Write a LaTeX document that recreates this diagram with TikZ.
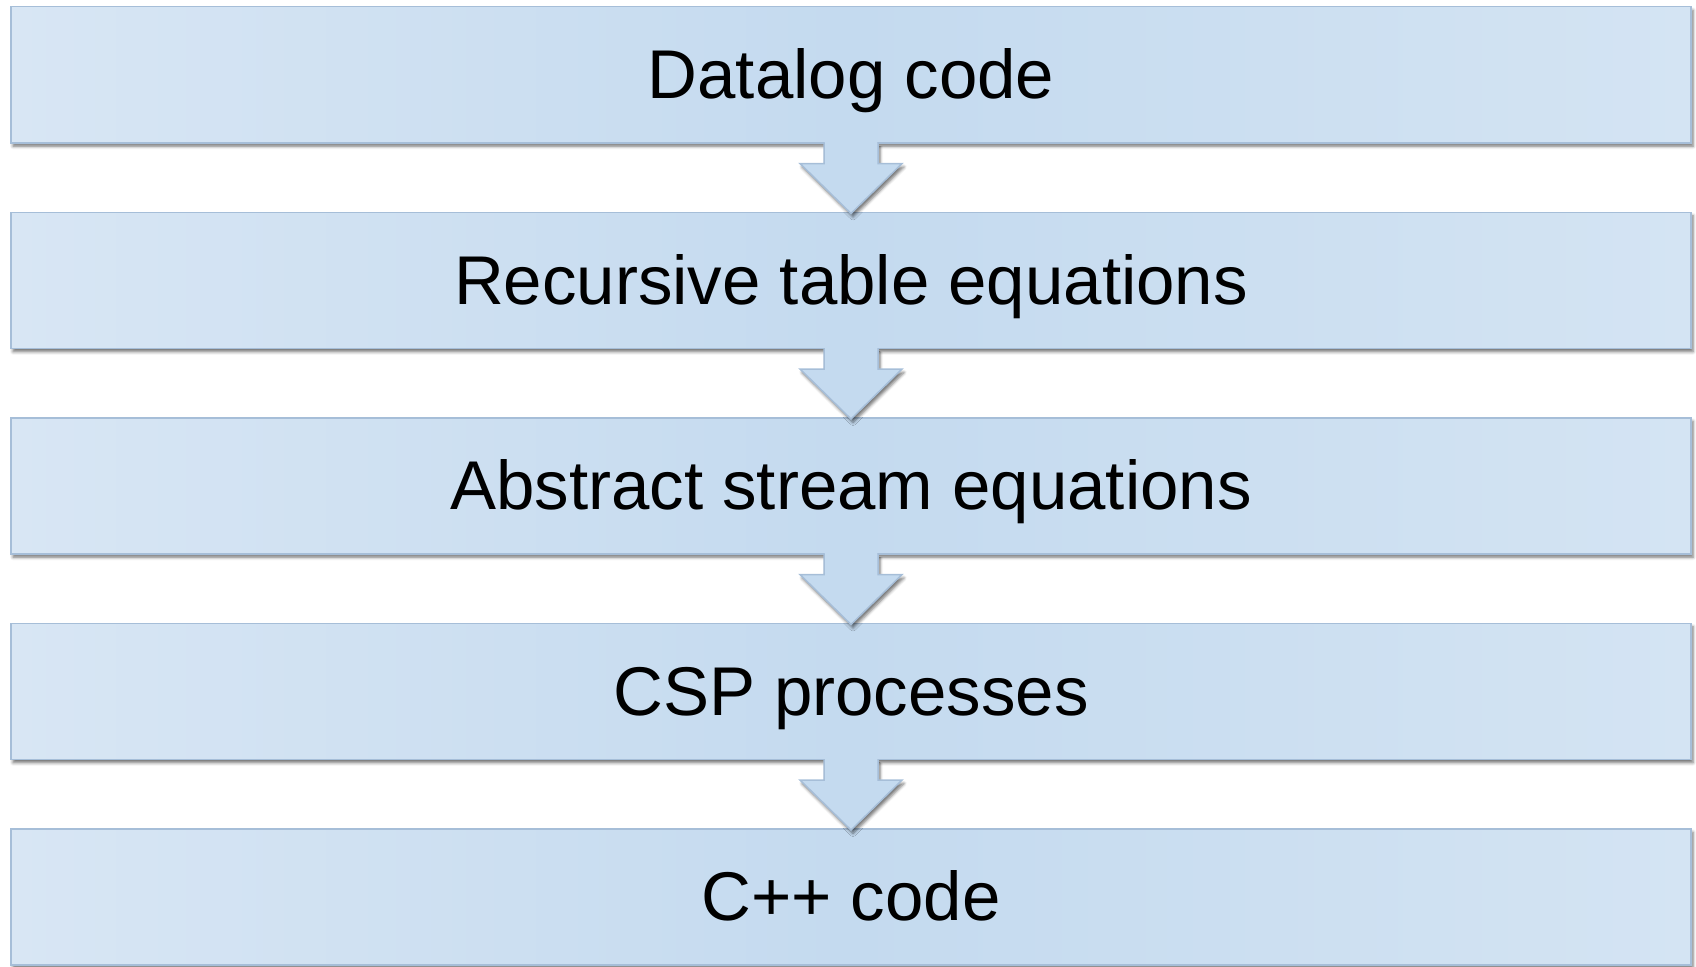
\documentclass[tikz,border=0pt]{standalone}
\usepackage{fontspec}
\setmainfont{Liberation Sans}
\usetikzlibrary{shadows.blur}
\definecolor{bline}{HTML}{A6BED8}
\definecolor{bmid}{HTML}{C4DAEF}
\definecolor{bleft}{HTML}{D8E6F4}
\definecolor{bright}{HTML}{D4E4F3}
\tikzset{
  stagebox/.style={draw=bline, line width=1.5pt, left color=bleft, right color=bright, middle color=bmid,
    minimum width=1680pt, minimum height=136pt, inner sep=0pt, anchor=north,
    blur shadow={shadow xshift=2pt, shadow yshift=-3.5pt, shadow blur radius=3pt, shadow opacity=55}},
  stagetext/.style={font=\fontsize{69}{80}\selectfont, text height=50pt, text depth=0pt, inner sep=0pt},
  flowarrow/.style={fill=bmid, draw=bline, line width=1.5pt, line join=miter,
    blur shadow={shadow xshift=2pt, shadow yshift=-3.5pt, shadow blur radius=3pt, shadow opacity=55}},
}
\begin{document}
\begin{tikzpicture}[x=1pt,y=-1pt]
\useasboundingbox (0,0) rectangle (1696,966);
\node[stagebox] (b1) at (851,6) {};
\node[stagebox] (b2) at (851,211.5) {};
\node[stagebox] (b3) at (851,417) {};
\node[stagebox] (b4) at (851,622.5) {};
\node[stagebox] (b5) at (851,828) {};
\node[stagetext] (t1) at ([yshift=1pt]b1.center) {Datalog code};
\node[stagetext] (t2) at ([yshift=1pt]b2.center) {Recursive table equations};
\node[stagetext] (t3) at ([yshift=1pt]b3.center) {Abstract stream equations};
\node[stagetext] (t4) at ([yshift=1pt]b4.center) {CSP processes};
\node[stagetext] (t5) at ([yshift=1pt]b5.center) {C++ code};
\foreach \a/\b in {b1/b2,b2/b3,b3/b4,b4/b5}{
  \coordinate (s) at (\a.south);
  \coordinate (n) at (\b.north);
  \path[flowarrow] ([xshift=-27pt,yshift=1pt]s) -- ([xshift=-27pt,yshift=-20pt]s)
    -- ([xshift=-51pt,yshift=-20pt]s) -- ([yshift=-2pt]n) -- ([xshift=51pt,yshift=-20pt]s)
    -- ([xshift=27pt,yshift=-20pt]s) -- ([xshift=27pt,yshift=1pt]s);
  \fill[bmid] ([xshift=-26.2pt,yshift=3pt]s) rectangle ([xshift=26.2pt,yshift=-19pt]s);
}
\end{tikzpicture}
\end{document}
